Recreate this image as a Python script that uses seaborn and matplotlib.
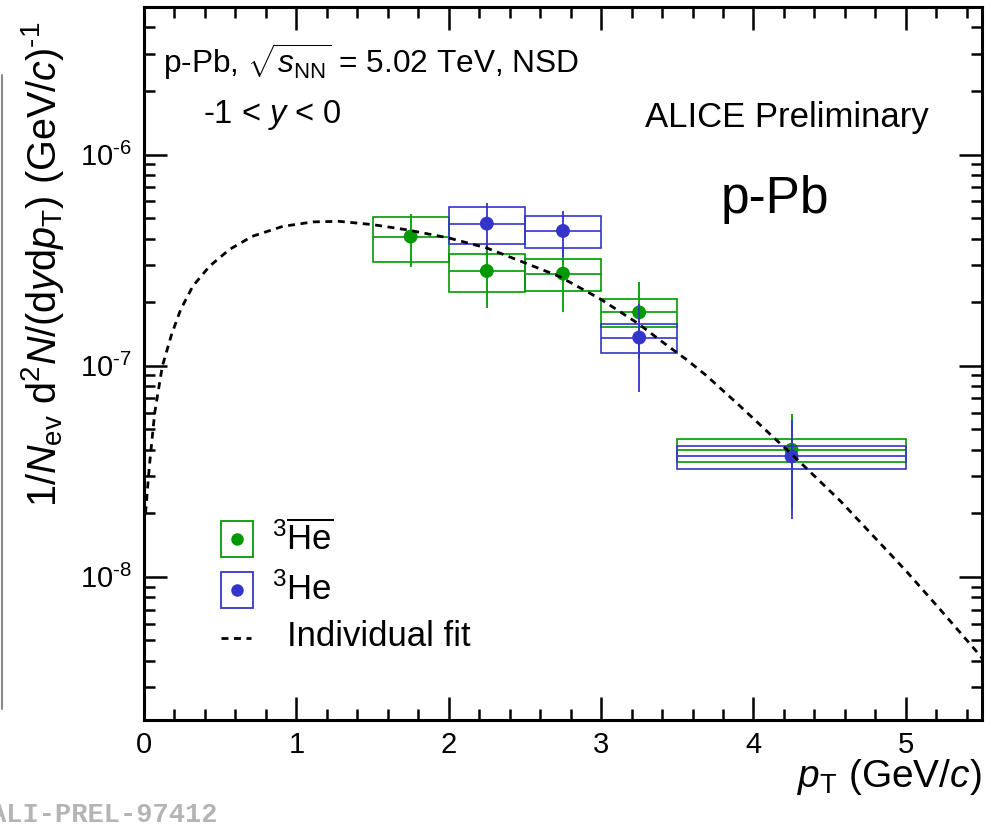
import numpy as np
import pandas as pd
import matplotlib
matplotlib.use("Agg")
import matplotlib.pyplot as plt
import matplotlib.ticker as mticker
from matplotlib.patches import Rectangle
from matplotlib.lines import Line2D
import seaborn as sns

# ---- data -------------------------------------------------------------
# anti-3He (pT bins, yields, statistical and systematic uncertainties)
anti_pt = [1.75, 2.25, 2.75, 3.25, 4.25]
anti_lo = [1.5, 2.0, 2.5, 3.0, 3.5]
anti_hi = [2.0, 2.5, 3.0, 3.5, 5.0]
anti_val = [4.09e-7, 2.81e-7, 2.73e-7, 1.79e-7, 4.0e-8]
anti_stat = [1.17e-7, 0.93e-7, 0.93e-7, 0.71e-7, 1.9e-8]
anti_syst = [1.0e-7, 0.57e-7, 0.48e-7, 0.27e-7, 0.5e-8]

# 3He
he_pt = [2.25, 2.75, 3.25, 4.25]
he_lo = [2.0, 2.5, 3.0, 3.5]
he_hi = [2.5, 3.0, 3.5, 5.0]
he_val = [4.71e-7, 4.35e-7, 1.36e-7, 3.72e-8]
he_stat = [1.19e-7, 1.08e-7, 0.61e-7, 1.84e-8]
he_syst = [0.95e-7, 0.75e-7, 0.21e-7, 0.46e-8]

# individual fit curve
fit_pt = [0.01, 0.035, 0.07, 0.12, 0.18, 0.24, 0.32, 0.43, 0.56, 0.71,
          0.91, 1.11, 1.28, 1.50, 1.72, 2.0, 2.25, 2.5, 2.73, 3.0,
          3.24, 3.4, 3.56, 3.69, 3.91, 4.13, 4.26, 4.57, 4.78, 5.0, 5.22,
          5.46, 5.5]
fit_val = [2.00e-8, 3.33e-8, 5.97e-8, 9.93e-8, 1.40e-7, 1.84e-7, 2.38e-7,
           2.96e-7, 3.55e-7, 4.10e-7, 4.57e-7, 4.80e-7, 4.83e-7, 4.66e-7,
           4.41e-7, 4.03e-7, 3.61e-7, 3.07e-7, 2.64e-7, 2.06e-7,
           1.59e-7, 1.30e-7, 1.07e-7, 9.0e-8, 6.46e-8, 4.59e-8, 3.76e-8,
           2.29e-8, 1.58e-8, 1.07e-8, 7.08e-9, 4.47e-9, 4.12e-9]

x_ticks = [0, 1, 2, 3, 4, 5]
x_tick_labels = ["0", "1", "2", "3", "4", "5"]

GREEN = "#009a00"
BLUE = "#3535cc"

# ---- style ------------------------------------------------------------
sns.set_theme(style="white")
plt.rcParams.update({
    "font.family": ["Liberation Sans", "DejaVu Sans"],
    "mathtext.fontset": "custom",
    "mathtext.rm": "Liberation Sans",
    "mathtext.it": "Liberation Sans:italic",
    "mathtext.bf": "Liberation Sans:bold",
    "mathtext.sf": "Liberation Sans",
    "axes.unicode_minus": False,
    "text.color": "black",
    "axes.labelcolor": "black",
    "xtick.color": "black",
    "ytick.color": "black",
})

W, H = 999, 827
fig = plt.figure(figsize=(W / 100, H / 100), dpi=100)
fig.patch.set_facecolor("white")


def fx(x):
    return x / W


def fy(y):
    return 1 - y / H


ax_l, ax_r, ax_t, ax_b = 144, 982, 7, 720
ax = fig.add_axes([fx(ax_l), fy(ax_b), (ax_r - ax_l) / W, (ax_b - ax_t) / H])
ax.set_facecolor("white")
ax.set_yscale("log")
ax.set_xlim(0, 5.5)
ax.set_ylim(2.1e-9, 5.0e-6)


def draw_species(pt, lo, hi, val, stat, syst, color, z):
    pt, lo, hi = np.asarray(pt), np.asarray(lo), np.asarray(hi)
    val, stat, syst = np.asarray(val), np.asarray(stat), np.asarray(syst)
    for l, h, v, s in zip(lo, hi, val, syst):
        ax.add_patch(Rectangle((l, v - s), h - l, 2 * s, fill=False,
                               ec=color, lw=1.2, zorder=z))
    ax.hlines(val, lo, hi, color=color, lw=1.2, zorder=z)
    ax.vlines(pt, val - stat, val + stat, color=color, lw=1.3, zorder=z)
    df = pd.DataFrame({"pt": pt, "val": val})
    sns.scatterplot(data=df, x="pt", y="val", color=color, s=100,
                    edgecolor="none", linewidth=0, ax=ax, zorder=z + 0.5,
                    legend=False)


draw_species(anti_pt, anti_lo, anti_hi, anti_val, anti_stat, anti_syst, GREEN, 3)
draw_species(he_pt, he_lo, he_hi, he_val, he_stat, he_syst, BLUE, 4)

fit_df = pd.DataFrame({"pt": fit_pt, "val": fit_val})
sns.lineplot(data=fit_df, x="pt", y="val", color="black", lw=2.0,
             linestyle=(0, (2.5, 2.0)), estimator=None, sort=False,
             ax=ax, zorder=10)

# ---- axes -------------------------------------------------------------
ax.set_xlabel("")
ax.set_ylabel("")
ax.set_xticks(x_ticks)
ax.set_xticklabels(x_tick_labels)
ax.xaxis.set_minor_locator(mticker.MultipleLocator(0.2))
ax.yaxis.set_major_locator(mticker.LogLocator(base=10, numticks=20))
ax.yaxis.set_minor_locator(mticker.LogLocator(base=10, subs=np.arange(2, 10), numticks=20))
ax.yaxis.set_major_formatter(mticker.FuncFormatter(
    lambda v, p: r"$10^{\text{%d}}$" % int(round(np.log10(v)))))
ax.yaxis.set_minor_formatter(mticker.NullFormatter())

for s in ax.spines.values():
    s.set_linewidth(2.2)
    s.set_color("black")
    s.set_visible(True)

ax.tick_params(which="both", direction="in", top=True, right=True,
               bottom=True, left=True, color="black", width=1.8)
ax.tick_params(which="major", length=16.5)
ax.tick_params(which="minor", length=8)
ax.tick_params(axis="x", which="major", labelsize=21, pad=8)
ax.tick_params(axis="y", which="major", labelsize=21, pad=9)
ax.grid(False)

# axis titles
fig.text(fx(982), fy(777), r"$p_{\mathrm{T}}$ (GeV/$c$)", fontsize=28,
         ha="right", va="center")
fig.text(fx(43), fy(264),
         r"1/$N_{\mathrm{ev}}$ d$^{2}$$N$/(d$y$d$p_{\mathrm{T}}$) (GeV/$c$)$^{\text{-1}}$",
         fontsize=28.5, rotation=90, ha="center", va="center")

# annotations
fig.text(fx(163), fy(62), r"p-Pb, $\sqrt{s_{\mathrm{NN}}}$ = 5.02 TeV, NSD",
         fontsize=22.8, ha="left", va="center")
fig.text(fx(203), fy(115), r"-1 < $y$ < 0", fontsize=23.5, ha="left", va="center")
fig.text(fx(645), fy(117), "ALICE Preliminary", fontsize=25, ha="left",
         va="center")
fig.text(fx(721), fy(200), "p-Pb", fontsize=37, ha="left", va="center")

# legend
leg_rows = [
    (GREEN, r"$^{3}\overline{\mathrm{He}}$", 539),
    (BLUE, r"$^{3}$He", 590),
]
for color, label, yc in leg_rows:
    fig.add_artist(Rectangle((fx(221), fy(yc + 18)), 32 / W, 36 / H,
                             transform=fig.transFigure, fill=False,
                             ec=color, lw=1.3))
    fig.add_artist(Line2D([fx(237)], [fy(yc)], marker="o", ms=9,
                          color=color, mec="none", transform=fig.transFigure))
    fig.text(fx(272), fy(yc), label, fontsize=25, ha="left", va="center")
fig.add_artist(Line2D([fx(221), fx(251)], [fy(638), fy(638)], color="black",
                      lw=2.0, linestyle=(0, (2.5, 2.0)),
                      transform=fig.transFigure))
fig.text(fx(287), fy(636), "Individual fit", fontsize=25, ha="left", va="center")

# page frame and figure id
fig.add_artist(Line2D([fx(2), fx(2)], [fy(75), fy(709)], color="#8a8a8a",
                      lw=1.5, transform=fig.transFigure))
fig.text(fx(-10), fy(815), "ALI-PREL-97412", family="Liberation Mono",
         weight="bold", color="#b4b4b4", fontsize=19.5, ha="left", va="center")

fig.savefig("out.png", dpi=100)
